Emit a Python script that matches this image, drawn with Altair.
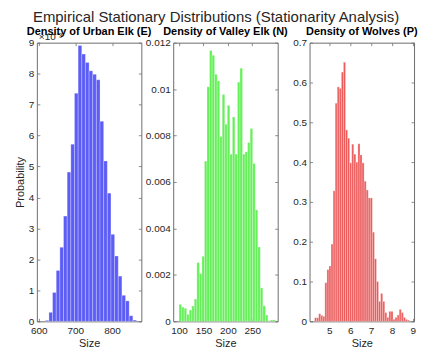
import altair as alt
import pandas as pd

# ---- data ----
urban_heights = [0.03, 0.29, 0.93, 1.64, 2.39, 3.40, 4.82, 5.72, 7.37, 8.91,
                 8.63, 8.36, 8.09, 7.98, 7.80, 6.46, 5.18, 4.14, 2.81, 2.11,
                 1.46, 0.84, 0.66, 0.18, 0.04]
urban_start, urban_width = 618.0, 9.95

valley_heights = [0.00073, 0.00061, 0.00056, 0.00030, 0.00049, 0.00066, 0.00096,
                  0.00253, 0.00206, 0.00280, 0.00690, 0.01010, 0.01166, 0.01146,
                  0.01064, 0.01036, 0.00796, 0.00977, 0.00849, 0.00930, 0.00720,
                  0.00880, 0.00720, 0.01030, 0.01090, 0.00720, 0.00730, 0.00770,
                  0.00830, 0.00680, 0.00480, 0.00320, 0.00144, 0.00067, 0.00027,
                  0.00002, 0.00006, 0.00006]
valley_start, valley_width = 100.0, 5.2

wolf_heights = [0.009, 0.009, 0.019, 0.015, 0.0125, 0.097, 0.13, 0.139, 0.194, 0.328,
                0.548, 0.589, 0.585, 0.626, 0.651, 0.481, 0.46, 0.398, 0.445, 0.42,
                0.40, 0.446, 0.418, 0.398, 0.352, 0.33, 0.31, 0.31, 0.224, 0.157,
                0.10, 0.05, 0.07, 0.05, 0.022, 0.01, 0.025, 0.025, 0.005, 0.01,
                0.016, 0.03, 0.022, 0.01, 0.005, 0.003]
wolf_start, wolf_width = 4.29, 0.099

titles = ["Density of Urban Elk (E)", "Density of Valley Elk (N)", "Density of Wolves (P)"]
main_title = "Empirical Stationary Distributions (Stationarity Analysis)"

W, H = 105, 280
FONT = "Liberation Sans"
TXT = "#262626"
FRAME = "#6e6e6e"


def make_df(heights, start, width):
    return pd.DataFrame({
        "start": [start + i * width for i in range(len(heights))],
        "end": [start + (i + 1) * width for i in range(len(heights))],
        "h": heights,
    })


def panel(df, title, color, xdom, xticks, ydom, yticks, ylabel, title_offset, exponent=None):
    xs = alt.Scale(domain=xdom, nice=False, zero=False)
    ys = alt.Scale(domain=ydom, nice=False, zero=False)
    base = alt.Chart(df)
    dom = dict(domain=True, domainColor=FRAME, domainWidth=1)
    bars = base.mark_bar(color=color, stroke="white", strokeOpacity=0.55, strokeWidth=0.5).encode(
        x=alt.X("start:Q", scale=xs, axis=alt.Axis(
            values=xticks, ticks=False, grid=False, title="Size",
            labelFont=FONT, labelFontSize=10, labelColor=TXT, labelPadding=4,
            titleFont=FONT, titleFontSize=11, titleColor=TXT, titleFontWeight="normal",
            titlePadding=2, labelFlush=False, **dom)),
        x2="end:Q",
        y=alt.Y("h:Q", scale=ys, axis=alt.Axis(
            values=yticks, ticks=False, grid=False, format="~g",
            title=ylabel if ylabel else None,
            labelFont=FONT, labelFontSize=10, labelColor=TXT, labelPadding=3,
            titleFont=FONT, titleFontSize=11, titleColor=TXT, titleFontWeight="normal",
            titlePadding=3, labelFlush=False, **dom)),
        y2=alt.datum(0),
    )
    tick_common = dict(labels=False, grid=False, ticks=True, tickSize=3,
                       tickColor=FRAME, tickWidth=0.8, title=None)
    t1 = base.mark_point(opacity=0).encode(
        x=alt.X("start:Q", scale=xs, axis=alt.Axis(orient="top", offset=-H, values=xticks,
                                                   domain=False, **tick_common)),
        y=alt.Y("h:Q", scale=ys, axis=alt.Axis(orient="right", offset=-W, values=yticks,
                                               domain=False, **tick_common)),
    )
    t2 = base.mark_point(opacity=0).encode(
        x=alt.X("start:Q", scale=xs, axis=alt.Axis(orient="bottom", offset=-H, values=xticks,
                                                   **dom, **tick_common)),
        y=alt.Y("h:Q", scale=ys, axis=alt.Axis(orient="left", offset=-W, values=yticks,
                                               **dom, **tick_common)),
    )
    layers = [bars, t1, t2]
    if exponent:
        ex = alt.Chart(pd.DataFrame({"t": [exponent]})).mark_text(
            align="left", baseline="bottom", font=FONT, fontSize=10, color=TXT
        ).encode(x=alt.value(2), y=alt.value(-1), text="t:N")
        layers.append(ex)
    return alt.layer(*layers).resolve_axis(x="independent", y="independent").properties(
        width=W, height=H,
        title=alt.TitleParams(title, font=FONT, fontSize=11, fontWeight="bold", color="black",
                              offset=title_offset, anchor="middle", frame="group"),
    )


p1 = panel(make_df(urban_heights, urban_start, urban_width), titles[0], "#5c5cf6",
           [595, 880], [600, 700, 800], [0, 9], list(range(10)), "Probability", -5, "×10⁻³")
p2 = panel(make_df(valley_heights, valley_start, valley_width), titles[1], "#64f058",
           [88, 302], [100, 150, 200, 250], [0, 0.012],
           [0, 0.002, 0.004, 0.006, 0.008, 0.01, 0.012], None, 1)
p3 = panel(make_df(wolf_heights, wolf_start, wolf_width), titles[2], "#ec5a5a",
           [4.05, 9.06], [5, 6, 7, 8, 9], [0, 0.7],
           [0, 0.1, 0.2, 0.3, 0.4, 0.5, 0.6, 0.7], None, 1)

chart = alt.hconcat(p1, p2, p3, spacing=32, bounds="flush").properties(
    title=alt.TitleParams(main_title, font=FONT, fontSize=15, fontWeight="normal",
                          color=TXT, anchor="middle", offset=1),
    padding={"left": 6, "top": 1, "right": 5, "bottom": 5},
).configure(background="white").configure_view(stroke=None)

chart.save("out.html", embed_options={"renderer": "svg", "actions": False})
